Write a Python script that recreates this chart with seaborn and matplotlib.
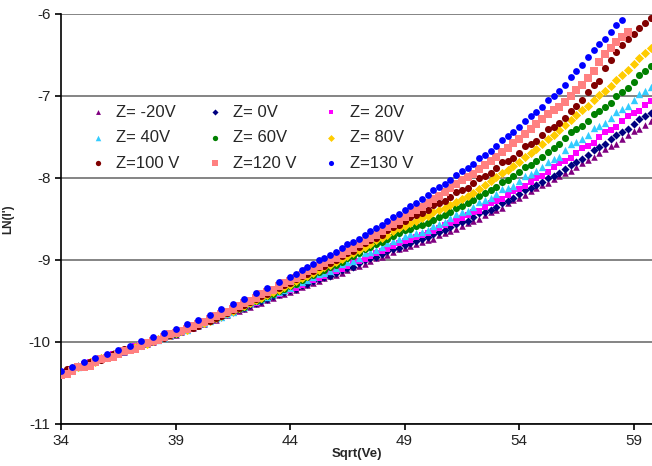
import matplotlib
matplotlib.use("Agg")
import matplotlib.pyplot as plt
import seaborn as sns

# x positions (Sqrt(Ve))
x_low_fine = [34.0, 34.25, 34.5, 34.75, 35.0, 35.25, 35.5, 35.75, 36.0, 36.25,
              36.5, 36.75, 37.0, 37.25, 37.5, 37.75, 38.0, 38.25, 38.5, 38.75,
              39.0, 39.25, 39.5, 39.75, 40.0, 40.25, 40.5, 40.75, 41.0, 41.25,
              41.5, 41.75, 42.0, 42.25, 42.5, 42.75, 43.0, 43.25, 43.5, 43.75, 44.0]
x_low_coarse = [34.0, 34.5, 35.0, 35.5, 36.0, 36.5, 37.0, 37.5, 38.0, 38.5,
                39.0, 39.5, 40.0, 40.5, 41.0, 41.5, 42.0, 42.5, 43.0, 43.5, 44.0]
x_high = [44.25, 44.5, 44.75, 45.0, 45.25, 45.5, 45.75, 46.0, 46.25, 46.5,
          46.75, 47.0, 47.25, 47.5, 47.75, 48.0, 48.25, 48.5, 48.75, 49.0,
          49.25, 49.5, 49.75, 50.0, 50.25, 50.5, 50.75, 51.0, 51.25, 51.5,
          51.75, 52.0, 52.25, 52.5, 52.75, 53.0, 53.25, 53.5, 53.75, 54.0,
          54.25, 54.5, 54.75, 55.0, 55.25, 55.5, 55.75, 56.0, 56.25, 56.5,
          56.75, 57.0, 57.25, 57.5, 57.75, 58.0, 58.25, 58.5, 58.75, 59.0,
          59.25, 59.5, 59.75]
sqrt_ve = x_low_fine + x_high
sqrt_ve_130 = x_low_coarse + x_high   # Z=130 V was sampled more sparsely

# LN(I'), one list per Z value
z_m20 = [-10.38, -10.36, -10.33, -10.31, -10.29, -10.26, -10.23, -10.21, -10.19, -10.17,
         -10.14, -10.12, -10.10, -10.07, -10.04, -10.02, -10.00, -9.98, -9.95, -9.93,
         -9.91, -9.88, -9.85, -9.83, -9.81, -9.78, -9.75, -9.73, -9.70, -9.67,
         -9.64, -9.62, -9.60, -9.57, -9.54, -9.52, -9.49, -9.46, -9.43, -9.41, -9.39,
         -9.37, -9.33, -9.30, -9.28, -9.26, -9.22, -9.19, -9.18, -9.16, -9.12,
         -9.09, -9.07, -9.05, -9.01, -8.98, -8.96, -8.94, -8.90, -8.86, -8.85,
         -8.83, -8.80, -8.78, -8.76, -8.74, -8.70, -8.67, -8.65, -8.62, -8.58,
         -8.55, -8.53, -8.50, -8.45, -8.41, -8.39, -8.36, -8.31, -8.27, -8.24,
         -8.21, -8.16, -8.12, -8.09, -8.06, -8.01, -7.97, -7.94, -7.91, -7.86,
         -7.82, -7.78, -7.75, -7.69, -7.65, -7.61, -7.58, -7.52, -7.47, -7.43,
         -7.40, -7.35, -7.31]
z_0 = [-10.36, -10.34, -10.32, -10.29, -10.27, -10.25, -10.23, -10.20, -10.17, -10.15,
       -10.13, -10.10, -10.08, -10.06, -10.04, -10.01, -9.98, -9.96, -9.94, -9.91,
       -9.89, -9.86, -9.84, -9.81, -9.79, -9.76, -9.74, -9.71, -9.69, -9.66,
       -9.63, -9.60, -9.58, -9.55, -9.53, -9.50, -9.47, -9.44, -9.42, -9.39, -9.37,
       -9.35, -9.31, -9.29, -9.26, -9.23, -9.21, -9.19, -9.16, -9.12, -9.10,
       -9.08, -9.04, -9.00, -8.98, -8.96, -8.93, -8.89, -8.87, -8.85, -8.82,
       -8.79, -8.77, -8.75, -8.72, -8.68, -8.66, -8.64, -8.60, -8.56, -8.54,
       -8.52, -8.48, -8.43, -8.41, -8.39, -8.35, -8.30, -8.28, -8.25, -8.20,
       -8.15, -8.12, -8.09, -8.05, -8.00, -7.97, -7.94, -7.89, -7.84, -7.81,
       -7.77, -7.72, -7.66, -7.62, -7.59, -7.53, -7.47, -7.44, -7.40, -7.34,
       -7.28, -7.25, -7.21]
z_20 = [-10.36, -10.35, -10.33, -10.29, -10.27, -10.24, -10.22, -10.20, -10.18, -10.15,
        -10.13, -10.11, -10.09, -10.05, -10.03, -10.01, -9.99, -9.96, -9.94, -9.92,
        -9.90, -9.86, -9.84, -9.82, -9.80, -9.76, -9.74, -9.72, -9.69, -9.65,
        -9.63, -9.61, -9.58, -9.54, -9.52, -9.49, -9.46, -9.43, -9.41, -9.38, -9.36,
        -9.34, -9.30, -9.26, -9.24, -9.22, -9.19, -9.15, -9.13, -9.11, -9.07,
        -9.03, -9.01, -8.99, -8.95, -8.91, -8.89, -8.87, -8.83, -8.79, -8.77,
        -8.76, -8.72, -8.69, -8.67, -8.65, -8.61, -8.57, -8.55, -8.53, -8.49,
        -8.45, -8.42, -8.40, -8.35, -8.31, -8.28, -8.26, -8.21, -8.16, -8.13,
        -8.10, -8.05, -8.00, -7.97, -7.93, -7.87, -7.82, -7.79, -7.76, -7.70,
        -7.64, -7.61, -7.57, -7.50, -7.44, -7.41, -7.38, -7.31, -7.25, -7.21,
        -7.18, -7.11, -7.06]
z_40 = [-10.37, -10.34, -10.32, -10.30, -10.28, -10.24, -10.22, -10.20, -10.18, -10.15,
        -10.13, -10.11, -10.09, -10.06, -10.04, -10.01, -9.98, -9.97, -9.95, -9.91,
        -9.89, -9.87, -9.85, -9.81, -9.79, -9.77, -9.75, -9.71, -9.69, -9.66,
        -9.63, -9.59, -9.57, -9.53, -9.50, -9.48, -9.45, -9.41, -9.39, -9.36, -9.34,
        -9.29, -9.27, -9.25, -9.21, -9.17, -9.16, -9.14, -9.10, -9.05, -9.03,
        -9.01, -8.97, -8.92, -8.90, -8.88, -8.84, -8.79, -8.77, -8.75, -8.71,
        -8.68, -8.67, -8.66, -8.63, -8.58, -8.56, -8.54, -8.49, -8.44, -8.42,
        -8.40, -8.35, -8.29, -8.27, -8.25, -8.20, -8.14, -8.12, -8.10, -8.04,
        -7.98, -7.95, -7.92, -7.86, -7.80, -7.77, -7.74, -7.66, -7.59, -7.56,
        -7.53, -7.47, -7.39, -7.36, -7.33, -7.27, -7.19, -7.16, -7.12, -7.05,
        -6.97, -6.94, -6.89]
z_60 = [-10.36, -10.35, -10.33, -10.29, -10.27, -10.25, -10.23, -10.19, -10.17, -10.16,
        -10.14, -10.10, -10.08, -10.06, -10.04, -10.01, -9.99, -9.96, -9.94, -9.92,
        -9.90, -9.86, -9.84, -9.82, -9.79, -9.76, -9.74, -9.71, -9.68, -9.65,
        -9.62, -9.60, -9.57, -9.53, -9.50, -9.47, -9.44, -9.41, -9.38, -9.35, -9.32,
        -9.29, -9.25, -9.21, -9.18, -9.15, -9.12, -9.08, -9.06, -9.02, -8.98,
        -8.95, -8.92, -8.87, -8.84, -8.81, -8.78, -8.74, -8.71, -8.67, -8.64,
        -8.62, -8.59, -8.57, -8.55, -8.51, -8.48, -8.45, -8.42, -8.37, -8.34,
        -8.31, -8.27, -8.22, -8.18, -8.15, -8.11, -8.05, -8.02, -7.98, -7.93,
        -7.87, -7.84, -7.79, -7.74, -7.68, -7.63, -7.58, -7.51, -7.44, -7.40,
        -7.36, -7.30, -7.22, -7.18, -7.14, -7.08, -7.00, -6.95, -6.90, -6.83,
        -6.75, -6.70, -6.64]
z_80 = [-10.38, -10.34, -10.32, -10.31, -10.28, -10.25, -10.24, -10.20, -10.18, -10.16,
        -10.13, -10.10, -10.09, -10.06, -10.03, -10.02, -9.99, -9.96, -9.94, -9.92,
        -9.89, -9.87, -9.85, -9.81, -9.79, -9.77, -9.74, -9.71, -9.68, -9.65,
        -9.62, -9.59, -9.56, -9.52, -9.49, -9.46, -9.43, -9.39, -9.36, -9.33, -9.30,
        -9.26, -9.22, -9.19, -9.16, -9.12, -9.09, -9.06, -9.03, -8.99, -8.95,
        -8.91, -8.88, -8.84, -8.80, -8.76, -8.73, -8.69, -8.65, -8.61, -8.58,
        -8.55, -8.52, -8.49, -8.46, -8.42, -8.39, -8.36, -8.33, -8.29, -8.26,
        -8.22, -8.18, -8.13, -8.09, -8.04, -7.99, -7.94, -7.90, -7.85, -7.80,
        -7.75, -7.69, -7.65, -7.59, -7.53, -7.47, -7.41, -7.35, -7.29, -7.23,
        -7.17, -7.12, -7.05, -6.99, -6.94, -6.88, -6.81, -6.74, -6.68, -6.61,
        -6.54, -6.47, -6.41]
z_100 = [-10.36, -10.33, -10.33, -10.29, -10.27, -10.24, -10.23, -10.22, -10.19, -10.15,
         -10.13, -10.09, -10.08, -10.07, -10.05, -10.00, -9.98, -9.97, -9.95, -9.91,
         -9.89, -9.86, -9.84, -9.83, -9.80, -9.76, -9.74, -9.71, -9.68, -9.65,
         -9.61, -9.58, -9.55, -9.51, -9.47, -9.44, -9.41, -9.37, -9.34, -9.31, -9.28,
         -9.23, -9.20, -9.17, -9.13, -9.09, -9.07, -9.04, -9.00, -8.95, -8.92,
         -8.89, -8.84, -8.79, -8.76, -8.73, -8.69, -8.63, -8.60, -8.57, -8.52,
         -8.48, -8.45, -8.43, -8.39, -8.33, -8.30, -8.28, -8.23, -8.17, -8.15,
         -8.12, -8.06, -8.00, -7.97, -7.94, -7.88, -7.81, -7.79, -7.76, -7.69,
         -7.61, -7.58, -7.55, -7.48, -7.40, -7.38, -7.33, -7.27, -7.18, -7.12,
         -7.05, -6.95, -6.86, -6.82, -6.66, -6.56, -6.46, -6.38, -6.30, -6.24,
         -6.17, -6.11, -6.05]
z_120 = [-10.40, -10.39, -10.35, -10.31, -10.30, -10.29, -10.25, -10.21, -10.20, -10.18,
         -10.15, -10.11, -10.10, -10.08, -10.05, -10.01, -9.99, -9.98, -9.94, -9.90,
         -9.89, -9.87, -9.84, -9.80, -9.78, -9.76, -9.72, -9.68, -9.66, -9.64,
         -9.60, -9.56, -9.53, -9.50, -9.46, -9.42, -9.39, -9.36, -9.32, -9.28, -9.26,
         -9.22, -9.18, -9.14, -9.11, -9.07, -9.04, -9.00, -8.97, -8.93, -8.89,
         -8.85, -8.81, -8.77, -8.73, -8.69, -8.65, -8.60, -8.56, -8.52, -8.48,
         -8.43, -8.39, -8.35, -8.31, -8.26, -8.22, -8.17, -8.12, -8.07, -8.03,
         -7.99, -7.95, -7.89, -7.84, -7.79, -7.74, -7.68, -7.63, -7.57, -7.52,
         -7.46, -7.40, -7.34, -7.28, -7.22, -7.17, -7.13, -7.07, -7.00, -6.93,
         -6.86, -6.78, -6.69, -6.58, -6.49, -6.41, -6.34, -6.28, -6.22]
z_130 = [-10.35, -10.31, -10.25, -10.20, -10.15, -10.10, -10.05, -9.99, -9.94, -9.89,
         -9.84, -9.78, -9.73, -9.67, -9.60, -9.54, -9.48, -9.40, -9.34, -9.27, -9.21,
         -9.17, -9.12, -9.09, -9.05, -9.00, -8.97, -8.94, -8.90, -8.85, -8.81,
         -8.78, -8.74, -8.69, -8.65, -8.61, -8.57, -8.52, -8.48, -8.44, -8.39,
         -8.34, -8.30, -8.26, -8.21, -8.15, -8.11, -8.07, -8.02, -7.96, -7.92,
         -7.88, -7.83, -7.76, -7.72, -7.67, -7.61, -7.54, -7.49, -7.44, -7.38,
         -7.30, -7.25, -7.20, -7.13, -7.05, -7.00, -6.94, -6.87, -6.77, -6.70,
         -6.62, -6.53, -6.44, -6.37, -6.30, -6.22, -6.14, -6.07]

labels = ["Z= -20V", "Z= 0V", "Z= 20V", "Z= 40V", "Z= 60V", "Z= 80V",
          "Z=100 V", "Z=120 V", "Z=130 V"]
series = [z_m20, z_0, z_20, z_40, z_60, z_80, z_100, z_120, z_130]
xs_for = [sqrt_ve] * 8 + [sqrt_ve_130]
colors = ["#800080", "#000080", "#FF00FF", "#33CCFF", "#008000", "#FFCC00",
          "#800000", "#FF8080", "#0000FF"]
markers = ["^", "D", "s", "^", "o", "D", "o", "s", "o"]
sizes = [22, 17, 20, 28, 26, 22, 26, 38, 24]

sns.set_style("white")
plt.rcParams['font.family'] = ['Liberation Sans', 'DejaVu Sans']
plt.rcParams['axes.unicode_minus'] = False

fig = plt.figure(figsize=(6.52, 4.66), dpi=100)
ax = fig.add_axes([61 / 652, 42 / 466, 591 / 652, 410 / 466])

for xs, ys, lab, c, m, s in zip(xs_for, series, labels, colors, markers, sizes):
    sns.scatterplot(x=xs[:len(ys)], y=ys, color=c, marker=m, s=s,
                    linewidth=0, edgecolor=c, label=lab, ax=ax, zorder=3)

ax.set_xlim(34, 59.8)
ax.set_ylim(-11, -6)
ax.set_xticks([34, 39, 44, 49, 54, 59])
ax.set_yticks([-11, -10, -9, -8, -7, -6])
ax.yaxis.grid(True, color="#707070", linewidth=1.2)
ax.xaxis.grid(False)
ax.set_axisbelow(True)
for side in ["top", "right"]:
    ax.spines[side].set_visible(False)
for side in ["left", "bottom"]:
    ax.spines[side].set_color("black")
    ax.spines[side].set_linewidth(1.2)
ax.tick_params(axis="both", direction="out", length=4, width=1.2,
               color="black", labelsize=11, labelcolor="#222222",
               left=True, bottom=True)
ax.set_xlabel("Sqrt(Ve)", fontsize=9.5, fontweight="bold", labelpad=0)
ax.set_ylabel("LN(I')", fontsize=8.5, fontweight="bold", labelpad=10)

# legend laid out row-wise like the original (3 per row)
h, l = ax.get_legend_handles_labels()
order = [0, 3, 6, 1, 4, 7, 2, 5, 8]
ax.legend([h[i] for i in order], [l[i] for i in order], ncol=3,
          loc="upper left", bbox_to_anchor=(0.023, 0.815), frameon=False,
          fontsize=12, labelspacing=0.62, columnspacing=1.6,
          handletextpad=0.6, handlelength=1.0, markerscale=0.75)

fig.savefig("out.png", dpi=100)
